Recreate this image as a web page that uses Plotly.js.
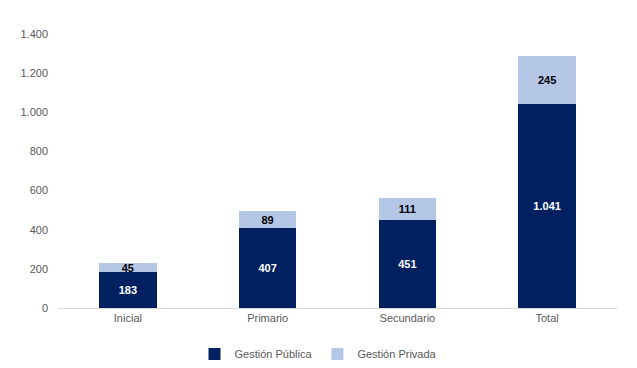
<!DOCTYPE html>
<html><head><meta charset="utf-8">
<script src="https://cdn.plot.ly/plotly-3.0.1.min.js"></script>
<style>html,body{margin:0;padding:0;background:#fff}#c{width:637px;height:368px}</style>
</head><body><div id="c"></div>
<script>
const categories = ["Inicial", "Primario", "Secundario", "Total"];
const publica = [183, 407, 451, 1041];
const privada = [45, 89, 111, 245];
const tickVals = [0, 200, 400, 600, 800, 1000, 1200, 1400];

const font = "Arial, 'Liberation Sans', sans-serif";
const traces = [
  {type: "bar", name: "Gestión Pública", x: categories, y: publica,
   marker: {color: "#002060"}, texttemplate: "%{y:,}", textposition: "inside",
   insidetextanchor: "middle", constraintext: "none",
   textfont: {color: "#ffffff", size: 11, family: font, weight: "bold"}, hoverinfo: "none"},
  {type: "bar", name: "Gestión Privada", x: categories, y: privada,
   marker: {color: "#b4c7e7"}, texttemplate: "%{y:,}", textposition: "inside",
   insidetextanchor: "middle", constraintext: "none",
   textfont: {color: "#000000", size: 11, family: font, weight: "bold"}, hoverinfo: "none"}
];
const layout = {
  width: 637, height: 368, barmode: "stack", bargap: 0.59,
  separators: ",.",
  margin: {l: 58, r: 20, t: 34, b: 60, autoexpand: false},
  paper_bgcolor: "#ffffff", plot_bgcolor: "#ffffff",
  font: {family: font, size: 11, color: "#595959"},
  xaxis: {showline: true, linecolor: "#d9d9d9", linewidth: 1, ticks: "", showgrid: false,
          tickfont: {size: 11, color: "#595959"}},
  yaxis: {range: [0, 1400], tickvals: tickVals, tickformat: ",d", showgrid: false,
          zeroline: false, showline: false, ticks: "", ticklabelstandoff: 9,
          tickfont: {size: 11, color: "#595959"}},
  showlegend: true,
  legend: {orientation: "h", x: 0.5, xanchor: "center", xref: "container",
           y: 0.038, yanchor: "middle", yref: "container", itemwidth: 30,
           font: {size: 11, color: "#595959"}, traceorder: "normal"}
};
Plotly.newPlot("c", traces, layout, {displayModeBar: false, staticPlot: true});
</script></body></html>
